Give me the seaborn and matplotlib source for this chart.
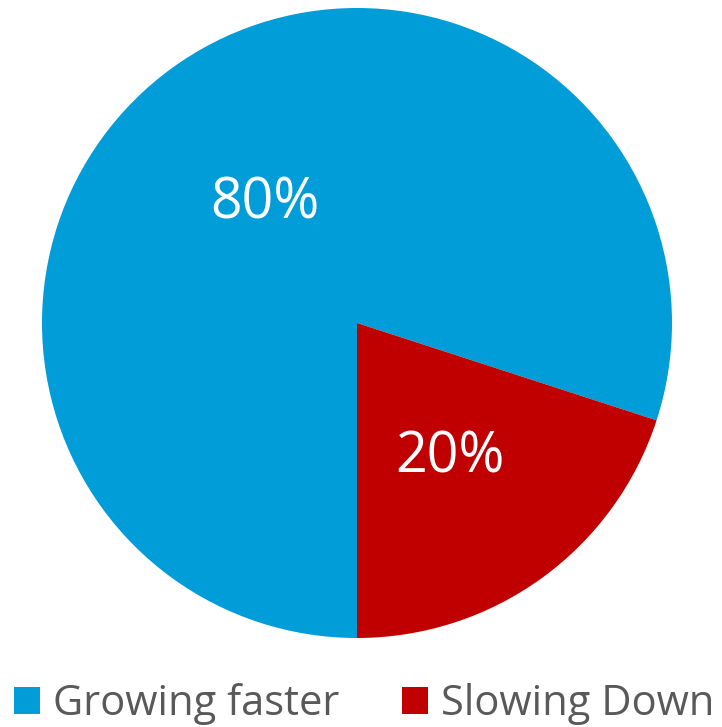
import matplotlib
matplotlib.use('Agg')
import matplotlib.pyplot as plt
import matplotlib.transforms as mtransforms
from matplotlib.patches import Patch
import seaborn as sns

sns.set_theme(style='white')
plt.rcParams['font.family'] = ['Open Sans', 'DejaVu Sans']

labels = ['Growing faster', 'Slowing Down']
shares = [80, 20]
colors = ['#009DD9', '#C00000']

fig = plt.figure(figsize=(7.22, 7.27), dpi=100)
fig.patch.set_facecolor('white')
ax = fig.add_axes([42 / 722, 89 / 727, 630 / 722, 630 / 727])

wedges, texts, autotexts = ax.pie(
    shares, colors=colors, startangle=-90, counterclock=False,
    autopct='%1.0f%%', pctdistance=0.5, radius=1,
    wedgeprops={'linewidth': 0},
    textprops={'fontsize': 40, 'color': 'white'})
ax.set_xlim(-1, 1)
ax.set_ylim(-1, 1)
ax.set_aspect('equal')

# nudge the percentage labels down a little
for t in autotexts:
    t.set_transform(mtransforms.offset_copy(t.get_transform(), fig=fig,
                                            x=0, y=-8, units='dots'))

handles = [Patch(facecolor=c, edgecolor='none') for c in colors]
leg = fig.legend(handles, labels, loc='lower center', ncol=2,
                 bbox_to_anchor=(0.504, -0.049), frameon=False,
                 fontsize=30, handlelength=0.64, handleheight=0.64,
                 handletextpad=0.3, columnspacing=1.5)
for t in leg.get_texts():
    t.set_color('#595959')

plt.savefig('out.png', dpi=100)
